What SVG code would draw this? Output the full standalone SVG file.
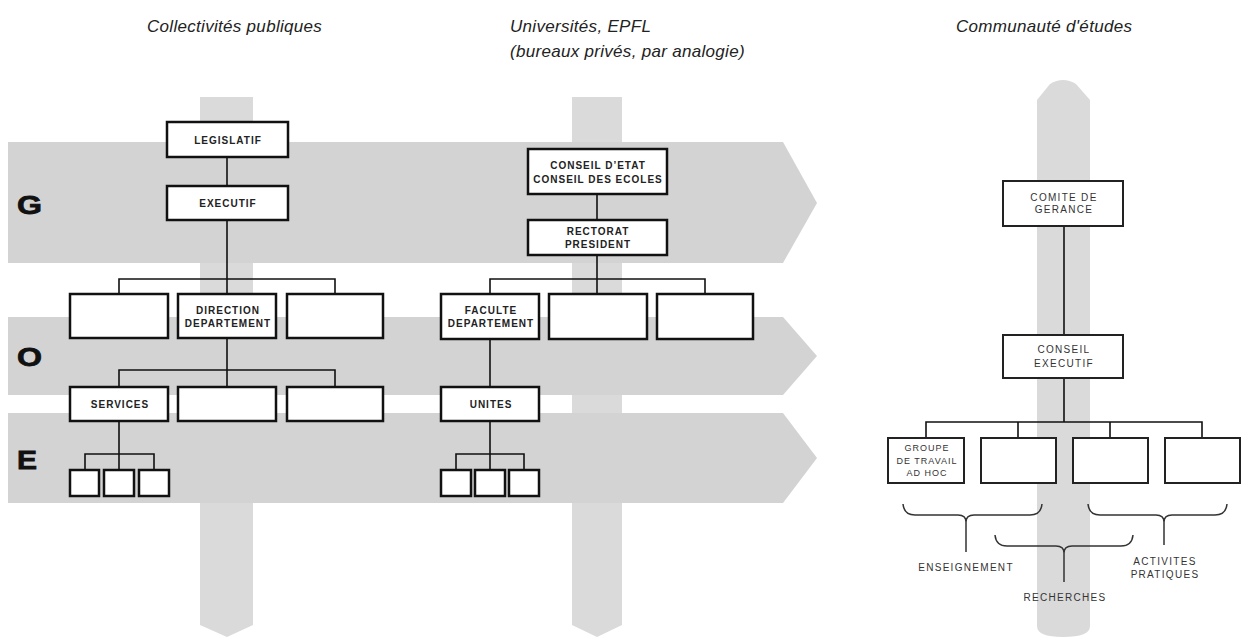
<svg xmlns="http://www.w3.org/2000/svg" width="1245" height="637" viewBox="0 0 1245 637">
<style>
.band{fill:#d3d3d3}
.post{fill:#dadada}
.title{font-family:"Liberation Sans",Arial,sans-serif;font-style:italic;font-size:17px;fill:#222;letter-spacing:0.3px}
.big{font-family:"Liberation Sans",Arial,sans-serif;font-weight:bold;font-size:26px;fill:#111;stroke:#111;stroke-width:0.8}
.box{fill:#fff;stroke:#111;stroke-width:2.5}
.box2{fill:#fff;stroke:#222;stroke-width:2}
.lbl{font-family:"Liberation Sans",Arial,sans-serif;font-weight:bold;font-size:10px;fill:#222;letter-spacing:1px;text-anchor:middle}
.lbl2{font-family:"Liberation Sans",Arial,sans-serif;font-size:10px;fill:#333;letter-spacing:1.3px;text-anchor:middle}
.con{fill:none;stroke:#111;stroke-width:1.6}
.brace{fill:none;stroke:#333;stroke-width:1.5}
</style>

<g id="background">
  <path class="post" d="M200,97 H253 V625 L227,637 L200,625 Z"/>
  <path class="post" d="M572,97 H622 V625 L597,637 L572,625 Z"/>
  <path class="post" d="M1037,100 L1050,84 Q1063,76 1076,84 L1090,100 V626 Q1090,637 1063,637 Q1037,637 1037,626 Z"/>
  <path class="band" d="M8,142 H783 L817,203 L783,263 H8 Z"/>
  <path class="band" d="M8,317 H783 L817,356 L783,395 H8 Z"/>
  <path class="band" d="M8,413 H783 L817,458 L783,503 H8 Z"/>
</g>

<g id="titles">
  <text class="title" x="147" y="32">Collectivités publiques</text>
  <text class="title" x="510" y="32">Universités, EPFL</text>
  <text class="title" x="510" y="57">(bureaux privés, par analogie)</text>
  <text class="title" x="956" y="32">Communauté d'études</text>
</g>

<g id="levels">
  <text class="big" x="17" y="214" textLength="25" lengthAdjust="spacingAndGlyphs">G</text>
  <text class="big" x="17" y="366" textLength="25" lengthAdjust="spacingAndGlyphs">O</text>
  <text class="big" x="17" y="469" textLength="20" lengthAdjust="spacingAndGlyphs">E</text>
</g>

<g id="connectors">
  <path class="con" d="M227,157 V186"/>
  <path class="con" d="M227,220 V294 M119,294 V279 H335 V294"/>
  <path class="con" d="M227,338 V387 M119,387 V370 H335 V387"/>
  <path class="con" d="M119,421 V470 M85,470 V454 H154 V470"/>
  <path class="con" d="M597,194 V220"/>
  <path class="con" d="M597,255 V294 M490,294 V279 H705 V294"/>
  <path class="con" d="M490,339 V387"/>
  <path class="con" d="M490,421 V470 M456,470 V454 H524 V470"/>
  <path class="con" d="M1064,226 V335"/>
  <path class="con" d="M1064,378 V422 M926,438 V422 H1202 V438 M1018,422 V438 M1110,422 V438"/>
</g>

<g id="n-legislatif"><rect class="box" x="167" y="122" width="121" height="35"/><text class="lbl" x="228" y="144">LEGISLATIF</text></g>
<g id="n-executif"><rect class="box" x="167" y="186" width="121" height="34"/><text class="lbl" x="228" y="207">EXECUTIF</text></g>
<g id="n-l-r1a"><rect class="box" x="70" y="294" width="98" height="44"/></g>
<g id="n-direction"><rect class="box" x="178" y="294" width="98" height="44"/><text class="lbl" x="228" y="314">DIRECTION</text><text class="lbl" x="228" y="327">DEPARTEMENT</text></g>
<g id="n-l-r1c"><rect class="box" x="287" y="294" width="96" height="44"/></g>
<g id="n-services"><rect class="box" x="70" y="387" width="98" height="34"/><text class="lbl" x="120" y="408">SERVICES</text></g>
<g id="n-l-r2b"><rect class="box" x="178" y="387" width="98" height="34"/></g>
<g id="n-l-r2c"><rect class="box" x="287" y="387" width="96" height="34"/></g>
<g id="n-l-e1"><rect class="box" x="70" y="470" width="29" height="26"/></g>
<g id="n-l-e2"><rect class="box" x="104" y="470" width="30" height="26"/></g>
<g id="n-l-e3"><rect class="box" x="139" y="470" width="30" height="26"/></g>

<g id="n-conseil-etat"><rect class="box" x="528" y="149" width="139" height="45"/><text class="lbl" x="598" y="169">CONSEIL D’ETAT</text><text class="lbl" x="598" y="183">CONSEIL DES ECOLES</text></g>
<g id="n-rectorat"><rect class="box" x="528" y="220" width="139" height="35"/><text class="lbl" x="598" y="235">RECTORAT</text><text class="lbl" x="598" y="248">PRESIDENT</text></g>
<g id="n-faculte"><rect class="box" x="441" y="294" width="98" height="45"/><text class="lbl" x="491" y="314">FACULTE</text><text class="lbl" x="491" y="327">DEPARTEMENT</text></g>
<g id="n-m-r1b"><rect class="box" x="549" y="294" width="98" height="45"/></g>
<g id="n-m-r1c"><rect class="box" x="657" y="294" width="96" height="45"/></g>
<g id="n-unites"><rect class="box" x="441" y="387" width="98" height="34"/><text class="lbl" x="491" y="408">UNITES</text></g>
<g id="n-m-e1"><rect class="box" x="441" y="470" width="30" height="26"/></g>
<g id="n-m-e2"><rect class="box" x="475" y="470" width="30" height="26"/></g>
<g id="n-m-e3"><rect class="box" x="509" y="470" width="30" height="26"/></g>

<g id="n-comite"><rect class="box2" x="1003" y="181" width="120" height="45"/><text class="lbl2" x="1064" y="201">COMITE DE</text><text class="lbl2" x="1064" y="213">GERANCE</text></g>
<g id="n-conseil-exec"><rect class="box2" x="1003" y="335" width="120" height="43"/><text class="lbl2" x="1064" y="353">CONSEIL</text><text class="lbl2" x="1064" y="367">EXECUTIF</text></g>
<g id="n-groupe"><rect class="box2" x="888" y="438" width="76" height="45"/><text class="lbl2" x="927" y="451" style="font-size:9px;letter-spacing:1px">GROUPE</text><text class="lbl2" x="927" y="464" style="font-size:9px;letter-spacing:1px">DE TRAVAIL</text><text class="lbl2" x="927" y="476" style="font-size:9px;letter-spacing:1px">AD HOC</text></g>
<g id="n-r-b2"><rect class="box2" x="981" y="438" width="75" height="45"/></g>
<g id="n-r-b3"><rect class="box2" x="1073" y="438" width="75" height="45"/></g>
<g id="n-r-b4"><rect class="box2" x="1165" y="438" width="75" height="45"/></g>

<g id="braces">
  <path class="brace" d="M903,504 Q904,515 915,515 H958 Q966,515 966,522 Q966,515 974,515 H1030 Q1041,515 1042,504 M966,520 V552"/>
  <path class="brace" d="M995,535 Q996,546 1007,546 H1056 Q1064,546 1064,553 Q1064,546 1072,546 H1121 Q1132,546 1133,535 M1064,551 V582"/>
  <path class="brace" d="M1088,504 Q1089,515 1100,515 H1156 Q1164,515 1164,522 Q1164,515 1172,515 H1215 Q1226,515 1227,504 M1164,520 V545"/>
</g>

<g id="group-labels">
  <text class="lbl2" x="966" y="571">ENSEIGNEMENT</text>
  <text class="lbl2" x="1065" y="601">RECHERCHES</text>
  <text class="lbl2" x="1165" y="565">ACTIVITES</text>
  <text class="lbl2" x="1165" y="578">PRATIQUES</text>
</g>
</svg>
